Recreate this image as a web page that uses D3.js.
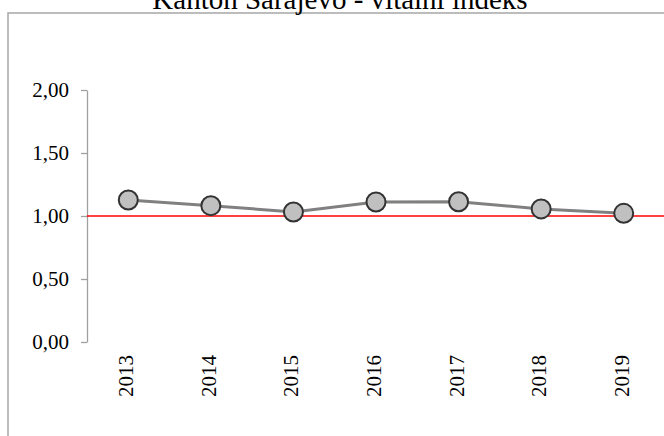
<!DOCTYPE html>
<html>
<head>
<meta charset="utf-8">
<script src="https://cdn.jsdelivr.net/npm/d3@7"></script>
<style>
  html, body { margin: 0; padding: 0; background: #fff; }
  svg { display: block; }
  text { font-family: "Liberation Serif", "Times New Roman", serif; fill: #000; }
</style>
</head>
<body>
<svg id="chart" width="664" height="436"></svg>
<script>
// Vitalni indeks, Kanton Sarajevo
const years = ["2013", "2014", "2015", "2016", "2017", "2018", "2019"];
const vitalIndex = [1.127, 1.082, 1.032, 1.111, 1.113, 1.056, 1.021];
const yTicks = [0, 0.5, 1, 1.5, 2];
const referenceLevel = 1;
const title = "Kanton Sarajevo - vitalni indeks";

const svg = d3.select("#chart");
const W = 664, H = 436;

// outer chart frame
svg.append("rect")
  .attr("x", 8).attr("y", 13)
  .attr("width", W + 20).attr("height", H + 20)
  .attr("fill", "none")
  .attr("stroke", "#a6a6a6")
  .attr("stroke-width", 1.5);

// title
svg.append("text")
  .attr("x", 340).attr("y", 9)
  .attr("text-anchor", "middle")
  .style("font-size", "29px")
  .text(title);

const plot = { left: 87, right: 665, top: 90, bottom: 342 };

const x = d3.scaleBand()
  .domain(years)
  .range([plot.left, plot.right]);

const y = d3.scaleLinear()
  .domain([0, 2])
  .range([plot.bottom, plot.top]);

const commaLocale = d3.formatLocale({ decimal: ",", thousands: ".", grouping: [3], currency: ["", ""] });
const fmt = commaLocale.format(".2f");

// value axis
const yAxis = svg.append("g")
  .attr("transform", `translate(${plot.left},0)`)
  .call(d3.axisLeft(y).tickValues(yTicks).tickFormat(fmt).tickSize(6).tickSizeOuter(0).tickPadding(12));
yAxis.select(".domain").attr("stroke", "#a0a0a0").attr("stroke-width", 1.3);
yAxis.selectAll(".tick line").attr("stroke", "#a0a0a0").attr("stroke-width", 1.3);
yAxis.selectAll(".tick text")
  .style("font-family", "'Liberation Serif', 'Times New Roman', serif")
  .style("font-size", "21px")
  .attr("fill", "#000");

// reference line at index 1
svg.append("line")
  .attr("x1", plot.left).attr("x2", W)
  .attr("y1", y(referenceLevel)).attr("y2", y(referenceLevel))
  .attr("stroke", "#ff0000")
  .attr("stroke-width", 1.5);

// category labels (rotated)
svg.append("g").selectAll("text")
  .data(years)
  .join("text")
  .attr("transform", d => `translate(${x(d) + x.bandwidth() / 2},355) rotate(-90)`)
  .attr("text-anchor", "end")
  .attr("dy", "0.24em")
  .style("font-size", "21px")
  .text(d => d);

const pts = years.map((yr, i) => ({ yr, v: vitalIndex[i] }));

// series line
svg.append("path")
  .datum(pts)
  .attr("fill", "none")
  .attr("stroke", "#808080")
  .attr("stroke-width", 3)
  .attr("d", d3.line()
    .x(d => x(d.yr) + x.bandwidth() / 2)
    .y(d => y(d.v)));

// markers
svg.append("g").selectAll("circle")
  .data(pts)
  .join("circle")
  .attr("cx", d => x(d.yr) + x.bandwidth() / 2)
  .attr("cy", d => y(d.v))
  .attr("r", 9.5)
  .attr("fill", "#c0c0c0")
  .attr("stroke", "#333333")
  .attr("stroke-width", 2);
</script>
</body>
</html>
